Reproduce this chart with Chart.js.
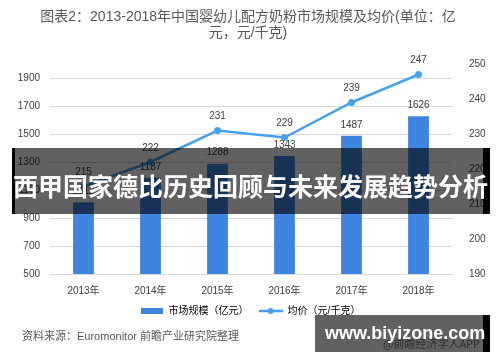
<!DOCTYPE html>
<html>
<head>
<meta charset="utf-8">
<script src="https://cdn.jsdelivr.net/npm/chart.js@4.4.0/dist/chart.umd.min.js"></script>
<style>
  html, body { margin: 0; padding: 0; background: #fff; }
  #wrap { position: relative; width: 500px; height: 362px; overflow: hidden;
          font-family: "Liberation Sans", "Noto Sans CJK SC", sans-serif; }
  #chart { position: absolute; left: 0; top: 0; }
  .title { position: absolute; left: 0; top: 8px; width: 496px; text-align: center;
           font-size: 14px; line-height: 16px; color: #595959; }
  .banner { position: absolute; left: 12px; top: 148px; width: 478px; height: 66px;
            background: rgba(0,0,0,0.62); border-left: 3px solid #000; border-right: 7px solid #000;
            box-sizing: border-box; }
  .banner-text { position: absolute; left: 13px; top: 170px; font-family: "Noto Sans CJK SC", sans-serif;
                 font-weight: bold; font-size: 25px; line-height: 30px; color: #fff; white-space: nowrap; }
  .wm { position: absolute; left: 315px; top: 315px; width: 175px; height: 37px;
        background: rgba(0,0,0,0.62); border-right: 7px solid #000; box-sizing: border-box; }
  .wm-app { position: absolute; left: 383px; top: 337px; font-family: "Noto Sans CJK SC", sans-serif;
            font-size: 11px; line-height: 13px; color: rgba(30,30,30,0.8); white-space: nowrap; }
  .wm-text { position: absolute; left: 325px; top: 323px; font-family: "Liberation Sans", sans-serif;
             font-weight: bold; font-size: 18px; line-height: 20px; color: #fff; white-space: nowrap; }
  .source { position: absolute; left: 22px; top: 329px; font-size: 11px; line-height: 14px; color: #595959;
            white-space: nowrap; }
</style>
</head>
<body>
<div id="wrap">
  <canvas id="chart" width="500" height="362"></canvas>
  <div class="title">图表2：2013-2018年中国婴幼儿配方奶粉市场规模及均价(单位：亿<br>元，元/千克)</div>
  <div class="source">资料来源：Euromonitor 前瞻产业研究院整理</div>
  <div class="banner"></div>
  <div class="banner-text">西甲国家德比历史回顾与未来发展趋势分析</div>
  <div class="wm"></div>
  <div class="wm-app">@前瞻经济学人APP</div>
  <div class="wm-text">www.biyizone.com</div>
</div>
<script>
/* ---------- DATA ---------- */
const years = ["2013年", "2014年", "2015年", "2016年", "2017年", "2018年"];
const marketSize = [1012, 1187, 1288, 1343, 1487, 1626];
const avgPrice = [215, 222, 231, 229, 239, 247];
const leftTicks = [500, 700, 900, 1100, 1300, 1500, 1700, 1900];

const BAR_COLOR = "#3d85e0";
const LINE_COLOR = "#46a2ee";

Chart.defaults.font.family = '"Liberation Sans", "Noto Sans CJK SC", sans-serif';
Chart.defaults.color = "#595959";

/* ---------- LEGEND ICONS ---------- */
function barIcon() {
  const c = document.createElement("canvas");
  c.width = 22; c.height = 6;
  const g = c.getContext("2d");
  g.fillStyle = BAR_COLOR;
  g.fillRect(0, 0, 22, 6);
  return c;
}
function lineIcon() {
  const c = document.createElement("canvas");
  c.width = 24; c.height = 8;
  const g = c.getContext("2d");
  g.strokeStyle = LINE_COLOR;
  g.lineWidth = 2.5;
  g.beginPath(); g.moveTo(0, 4); g.lineTo(24, 4); g.stroke();
  g.fillStyle = LINE_COLOR;
  g.beginPath(); g.arc(12, 4, 3, 0, Math.PI * 2); g.fill();
  return c;
}
const icons = [barIcon(), lineIcon()];

/* ---------- VALUE LABELS ---------- */
const valueLabels = {
  id: "valueLabels",
  afterDatasetsDraw(chart) {
    const ctx = chart.ctx;
    ctx.save();
    ctx.font = '10px "Liberation Sans", sans-serif';
    ctx.fillStyle = "#404040";
    ctx.textAlign = "center";
    ctx.textBaseline = "middle";
    chart.data.datasets.forEach((ds, i) => {
      const meta = chart.getDatasetMeta(i);
      meta.data.forEach((el, j) => {
        const off = ds.type === "line" ? 14 : 11;
        ctx.fillText(ds.data[j], el.x, el.y - off);
      });
    });
    ctx.restore();
  }
};

const plain = v => String(v);

/* ---------- CHART ---------- */
new Chart(document.getElementById("chart"), {
  data: {
    labels: years,
    datasets: [
      {
        type: "bar",
        label: "市场规模（亿元）",
        data: marketSize,
        backgroundColor: BAR_COLOR,
        yAxisID: "y",
        categoryPercentage: 1,
        barPercentage: 0.31,
        order: 1
      },
      {
        type: "line",
        label: "均价（元/千克）",
        data: avgPrice,
        borderColor: LINE_COLOR,
        backgroundColor: LINE_COLOR,
        borderWidth: 2.5,
        pointRadius: 3.5,
        pointBorderWidth: 0,
        tension: 0,
        yAxisID: "y1",
        order: 0
      }
    ]
  },
  options: {
    responsive: false,
    animation: false,
    layout: { padding: { top: 64, left: 0, right: 0, bottom: 36 } },
    plugins: {
      tooltip: { enabled: false },
      legend: {
        position: "bottom",
        labels: {
          usePointStyle: true,
          pointStyleWidth: 24,
          padding: 10,
          font: { size: 10 },
          color: "#262626",
          generateLabels(chart) {
            return chart.data.datasets.map((ds, i) => ({
              text: ds.label,
              pointStyle: icons[i],
              fillStyle: LINE_COLOR,
              strokeStyle: LINE_COLOR,
              lineWidth: 0,
              hidden: false,
              datasetIndex: i
            }));
          }
        }
      }
    },
    scales: {
      x: {
        grid: { display: false },
        border: { display: false },
        ticks: { font: { size: 10 }, color: "#404040", padding: 3 },
        afterFit(s) { s.height = 22; }
      },
      y: {
        position: "left",
        min: 500,
        max: 2000,
        afterBuildTicks(s) { s.ticks = leftTicks.map(v => ({ value: v })); },
        grid: { color: "#d9d9d9", drawTicks: false },
        border: { display: false },
        ticks: { font: { size: 10 }, color: "#404040", padding: 10, callback: plain },
        afterFit(s) { s.width = 50; }
      },
      y1: {
        position: "right",
        min: 190,
        max: 250,
        grid: { display: false },
        border: { display: false },
        ticks: { stepSize: 10, font: { size: 10 }, color: "#404040", padding: 9, callback: plain },
        afterFit(s) { s.width = 48; }
      }
    }
  },
  plugins: [valueLabels]
});
</script>
</body>
</html>
